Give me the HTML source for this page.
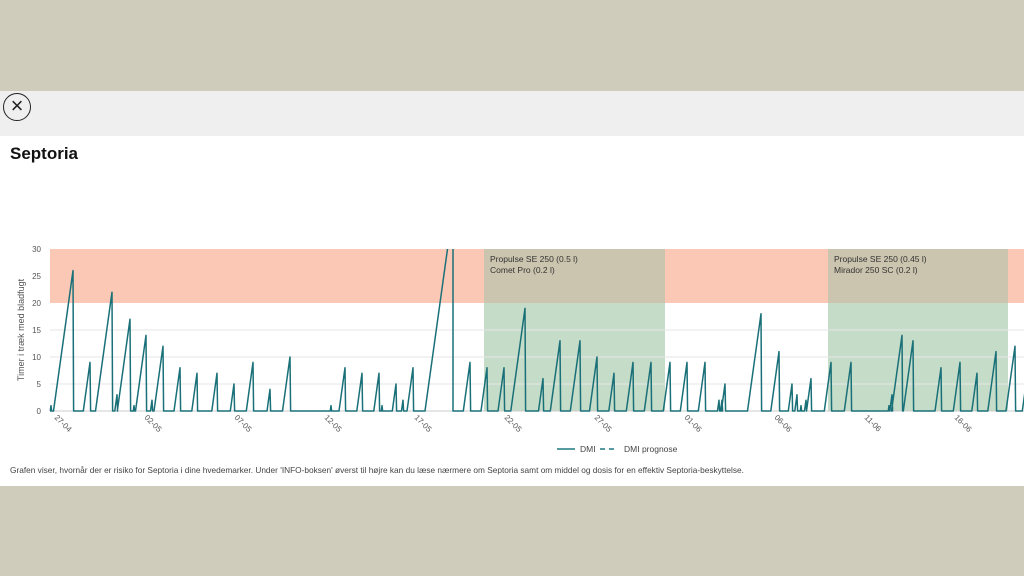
<!DOCTYPE html>
<html><head><meta charset="utf-8"><style>
body{margin:0;width:1024px;height:576px;overflow:hidden;background:#cfccbb;font-family:"Liberation Sans",sans-serif;position:relative}
#bar{position:absolute;left:0;top:91px;width:1024px;height:45px;background:#efefef}
#main{position:absolute;left:0;top:136px;width:1024px;height:350px;background:#fff}
#close{position:absolute;left:3px;top:93px;width:28px;height:28px;border:1.5px solid #222;border-radius:50%;box-sizing:border-box;text-align:center;font-size:22px;line-height:24px;color:#222}
#title{position:absolute;left:10px;top:144px;font-size:17px;font-weight:bold;color:#111}
#foot{position:absolute;left:10px;top:465px;font-size:8.3px;color:#444}
svg{position:absolute;left:0;top:0}
</style></head><body>
<div id="bar"></div><div id="main"></div>
<div id="close">×</div>
<div id="title">Septoria</div>
<svg width="1024" height="576" font-family="Liberation Sans, sans-serif">
<defs><clipPath id="c"><rect x="40" y="249" width="990" height="170"/></clipPath></defs>
<rect x="50" y="249" width="974" height="54" fill="#fcc8b6"/>
<rect x="484" y="249" width="181" height="162" fill="rgba(140,185,145,0.5)"/>
<rect x="828" y="249" width="180" height="162" fill="rgba(140,185,145,0.5)"/>
<rect x="484" y="249" width="181" height="54" fill="#cbc4ae"/>
<rect x="828" y="249" width="180" height="54" fill="#cbc4ae"/>
<g stroke="#e6e6e6" stroke-width="1">
<line x1="50" x2="1024" y1="330" y2="330"/><line x1="50" x2="1024" y1="357" y2="357"/><line x1="50" x2="1024" y1="384" y2="384"/>
</g>
<line x1="50" x2="1024" y1="411" y2="411" stroke="#ccc"/>
<g font-size="8" fill="#555" text-anchor="end">
<text x="41" y="252">30</text><text x="41" y="279">25</text><text x="41" y="306">20</text><text x="41" y="333">15</text><text x="41" y="360">10</text><text x="41" y="387">5</text><text x="41" y="414">0</text>
</g>
<text transform="translate(24,330) rotate(-90)" font-size="9" fill="#555" text-anchor="middle">Timer i træk med bladfugt</text>
<g font-size="8" fill="#555" id="xt"></g>
<g font-size="8.5" fill="#333">
<text x="490" y="262">Propulse SE 250 (0.5 l)</text><text x="490" y="273">Comet Pro (0.2 l)</text>
<text x="834" y="262">Propulse SE 250 (0.45 l)</text><text x="834" y="273">Mirador 250 SC (0.2 l)</text>
</g>
<path id="ser" clip-path="url(#c)" fill="none" stroke="#1a7078" stroke-width="1.5" stroke-linejoin="round"/>
<line x1="557" x2="575" y1="449" y2="449" stroke="#1f7a80" stroke-width="1.5"/>
<text x="580" y="452" font-size="8.5" fill="#444">DMI</text>
<line x1="600" x2="618" y1="449" y2="449" stroke="#1f7a80" stroke-width="1.5" stroke-dasharray="5,4"/>
<text x="624" y="452" font-size="8.5" fill="#444">DMI prognose</text>
</svg>
<div id="foot">Grafen viser, hvornår der er risiko for Septoria i dine hvedemarker. Under 'INFO-boksen' øverst til højre kan du læse nærmere om Septoria samt om middel og dosis for en effektiv Septoria-beskyttelse.</div>
<script>
var P=[[51,1],[73,26],[90,9],[112,22],[117,3],[130,17],[134,1],[146,14],[152,2],[163,12],[180,8],[197,7],[217,7],[234,5],[253,9],[270,4],[290,10],[331,1],[345,8],[362,7],[379,7],[382,1],[396,5],[403,2],[413,8],[449,32],[453,32],[470,9],[487,8],[504,8],[525,19],[543,6],[560,13],[580,13],[597,10],[614,7],[633,9],[651,9],[670,9],[687,9],[705,9],[719,2],[722,2],[725,5],[761,18],[779,11],[792,5],[797,3],[801,1],[806,2],[811,6],[831,9],[851,9],[889,1],[892,3],[902,14],[913,13],[941,8],[960,9],[977,7],[996,11],[1015,12],[1026,5]];
function y(v){return 411-5.4*v}
var d="M50,411";
for(var i=0;i<P.length;i++){var x=P[i][0],v=P[i][1];
 if(x==453){d+=" L453,"+y(v)+" L453,411";continue;}
 var s=x-v*0.75;d+=" L"+s.toFixed(1)+",411 L"+x+","+y(v).toFixed(1);
 if(!(P[i+1]&&P[i+1][0]==453))d+=" L"+(x+0.6)+",411";}
d+=" L1024,411";
document.getElementById("ser").setAttribute("d",d);
var lb=["27-04","02-05","07-05","12-05","17-05","22-05","27-05","01-06","06-06","11-06","16-06"],g="";
for(var k=0;k<lb.length;k++){var x=50+k*90;g+='<text transform="translate('+(x+4)+',418) rotate(45)">'+lb[k]+'</text>';}
document.getElementById("xt").innerHTML=g;
</script>
</body></html>
